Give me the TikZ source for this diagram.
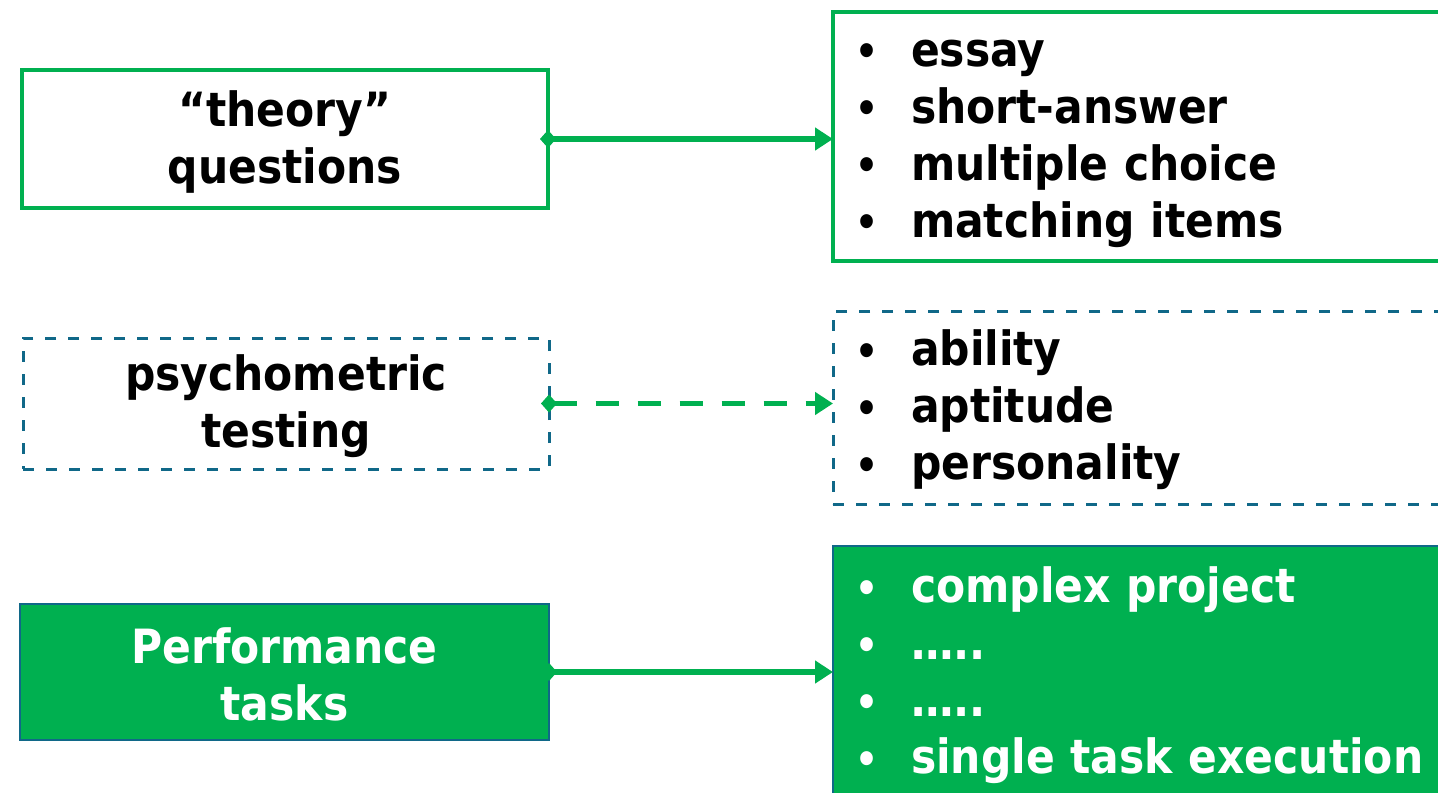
\documentclass[tikz,border=0pt]{standalone}
\usepackage{fontspec}
\setmainfont{DejaVu Sans Condensed}[BoldFont=* Bold]
\usetikzlibrary{arrows.meta}
\definecolor{pgreen}{RGB}{0,176,80}
\definecolor{pteal}{RGB}{16,104,136}
\newcommand\bitem[1]{\makebox[28pt][l]{\fontsize{20}{28.5}\selectfont\raisebox{0.3pt}{•}}#1}
\newcommand\tstr{\rule{0pt}{20.5pt}}
\newcommand\bstr{\rule[-0.1pt]{0pt}{0pt}}
\begin{document}
\begin{tikzpicture}[x=0.5pt,y=-0.5pt,
  font=\fontsize{23.6}{28.5}\selectfont\bfseries,
  every node/.style={outer sep=0pt},
  lbox/.style={minimum width=263pt, minimum height=69pt, align=center, inner sep=0pt},
  solidbox/.style={draw=pgreen, line width=2pt, fill=white},
  dashbox/.style={draw=pteal, line width=1.5pt, dash pattern=on 5.5pt off 6pt, fill=white},
  fillbox/.style={draw=pteal, line width=0.6pt, fill=pgreen, text=white},
  rbox/.style={anchor=west, text width=330pt, align=left, inner xsep=11pt, inner ysep=0pt},
  conn/.style={draw=pgreen, line width=2.6pt, {Diamond[length=8pt,width=9pt]}-{Triangle[length=9pt,width=11pt]}, shorten <=-4pt}
]
\clip (0,0) rectangle (1438,792);
\fill[white] (0,0) rectangle (1438,792);
\node[lbox,solidbox] (t) at (285,139) {\tstr“theory”\\questions\bstr};
\node[lbox,dashbox,minimum height=65.5pt] (p) at (286,403.5) {\tstr psychometric\\testing\bstr};
\node[lbox,fillbox,minimum width=264.5pt,minimum height=68pt] (f) at (284.5,672) {\tstr Performance\\tasks\bstr};
\node[rbox,solidbox,minimum height=124.5pt] (r1) at (833,136.5)
  {\tstr\bitem{essay}\\\bitem{short-answer}\\\bitem{multiple choice}\\\bitem{matching items}\bstr};
\node[rbox,dashbox,minimum height=96.5pt] (r2) at (833,407.5)
  {\tstr\bitem{ability}\\\bitem{aptitude}\\\bitem{personality}\bstr};
\node[rbox,fillbox,minimum height=127pt] (r3) at (833,673)
  {\tstr\bitem{complex project}\\\bitem{…..}\\\bitem{…..}\\\bitem{single task execution}\bstr};
\draw[conn] (t.east) -- (t.east -| r1.west);
\draw[conn,dash pattern=on 11.5pt off 9.5pt] (p.east) -- (p.east -| r2.west);
\draw[conn] (f.east) -- (f.east -| r3.west);
\end{tikzpicture}
\end{document}
